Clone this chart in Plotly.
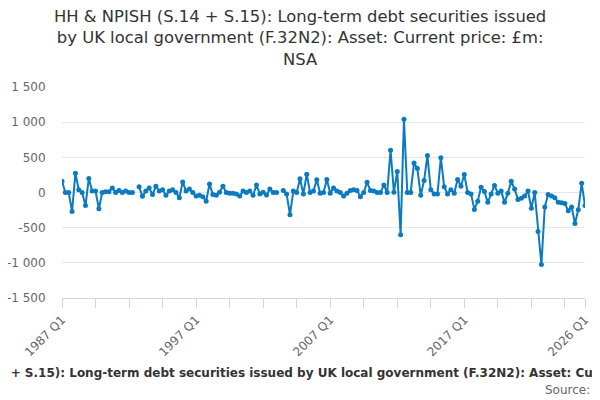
import plotly.graph_objects as go

# Quarterly series, 1987 Q1 .. 2026 Q1 (£m); None = no value published
FIRST_YEAR = 1987
LAST_YEAR = 2026

values = [
    160, 0, 0, -270, 275, 40, 0, -185, 200, 20,
    20, -230, 0, 10, 10, 65, 0, 30, 0, 20,
    0, 0, None, 80, -55, 20, 65, -30, 90, 20,
    40, -40, 20, 40, 0, -75, 150, 20, 50, 0,
    -50, -40, -60, -125, 120, -30, -40, 5, 90, 0,
    -10, -10, -20, -50, 20, 0, 20, -40, 105, -20,
    5, -35, 50, 0, 0, None, 30, -20, -315, 20,
    0, 195, -20, 260, 0, 20, 180, -10, 0, 185,
    -10, 65, 20, 0, -50, -10, 30, 40, 30, -60,
    0, 145, 30, 20, 0, 0, 105, 0, 600, 5,
    300, -600, 1040, 0, 0, 420, 340, -40, 170, 525,
    40, -20, -20, 495, 80, -20, 40, -10, 185, 90,
    255, 0, -20, -240, -125, 75, 15, -140, -20, 100,
    -10, 20, -140, -10, 160, 50, -100, -80, -50, 20,
    -225, 0, -555, -1025, -205, -30, -50, -75, -140, -145,
    -155, -260, -205, -440, -245, 130, -185,
]

y_ticks = [-1500, -1000, -500, 0, 500, 1000, 1500]
y_tick_labels = ["-1 500", "-1 000", "-500", "0", "500", "1 000", "1 500"]

quarters = [f"{y} Q{q}" for y in range(FIRST_YEAR, LAST_YEAR + 1) for q in range(1, 5)]
quarters = quarters[: quarters.index(f"{LAST_YEAR} Q1") + 1]

# tick marks every 10 quarters plus the last one; labels only on some of them
tick_positions = quarters[::10] + [quarters[-1]]
labelled = [quarters[i] for i in range(0, len(quarters), 40)] + [quarters[-1]]
tick_text = [q if q in labelled else "" for q in tick_positions]

TITLE = (
    "HH & NPISH (S.14 + S.15): Long-term debt securities issued<br>"
    "by UK local government (F.32N2): Asset: Current price: £m:<br>NSA"
)
CAPTION = (
    "HH & NPISH (S.14 + S.15): Long-term debt securities issued by UK local "
    "government (F.32N2): Asset: Current price: £m: NSA"
)

LINE_COLOR = "#0b7bc1"
AXIS_COLOR = "#ccd6eb"
GRID_COLOR = "#e6e6e6"
FONT = "DejaVu Sans"

fig = go.Figure(
    go.Scatter(
        x=quarters,
        y=values,
        mode="lines+markers",
        line={"color": LINE_COLOR, "width": 2},
        marker={"color": LINE_COLOR, "size": 5},
        connectgaps=False,
    )
)

# the page body keeps its default 8px margin, so the margins below allow for it
fig.update_layout(
    width=600,
    height=400,
    paper_bgcolor="white",
    plot_bgcolor="white",
    showlegend=False,
    margin={"t": 79, "b": 110, "l": 54, "r": 23},
    font={"family": FONT, "color": "#666666", "size": 12},
    annotations=[
        {
            "text": TITLE,
            "xref": "paper",
            "yref": "paper",
            "x": 0.455,
            "y": 1.232,
            "xanchor": "center",
            "yanchor": "middle",
            "showarrow": False,
            "font": {"family": FONT, "size": 16.4, "color": "#333333"},
        },
        {
            "text": f"<b>{CAPTION}</b>",
            "xref": "paper",
            "yref": "paper",
            "x": 0.473,
            "y": -0.355,
            "xanchor": "center",
            "yanchor": "middle",
            "showarrow": False,
            "font": {"family": FONT, "size": 12, "color": "#333333"},
        },
        {
            "text": "Source:",
            "xref": "paper",
            "yref": "paper",
            "x": 1.013,
            "y": -0.436,
            "xanchor": "right",
            "yanchor": "middle",
            "showarrow": False,
            "font": {"family": FONT, "size": 12, "color": "#666666"},
        },
    ],
)

fig.update_xaxes(
    type="category",
    range=[0, len(quarters) - 1],
    tickmode="array",
    tickvals=tick_positions,
    ticktext=tick_text,
    tickangle=-45,
    ticks="outside",
    ticklen=9,
    tickcolor=AXIS_COLOR,
    showline=True,
    linecolor=AXIS_COLOR,
    showgrid=False,
    automargin=False,
    tickfont={"size": 12, "color": "#666666"},
)

fig.update_yaxes(
    range=[-1500, 1500],
    tickmode="array",
    tickvals=y_ticks,
    ticktext=y_tick_labels,
    showgrid=True,
    gridcolor=GRID_COLOR,
    zeroline=False,
    showline=False,
    ticks="outside",
    ticklen=13,
    tickcolor="rgba(0,0,0,0)",
    automargin=False,
    tickfont={"size": 12, "color": "#666666"},
)

fig.write_html("out.html")
